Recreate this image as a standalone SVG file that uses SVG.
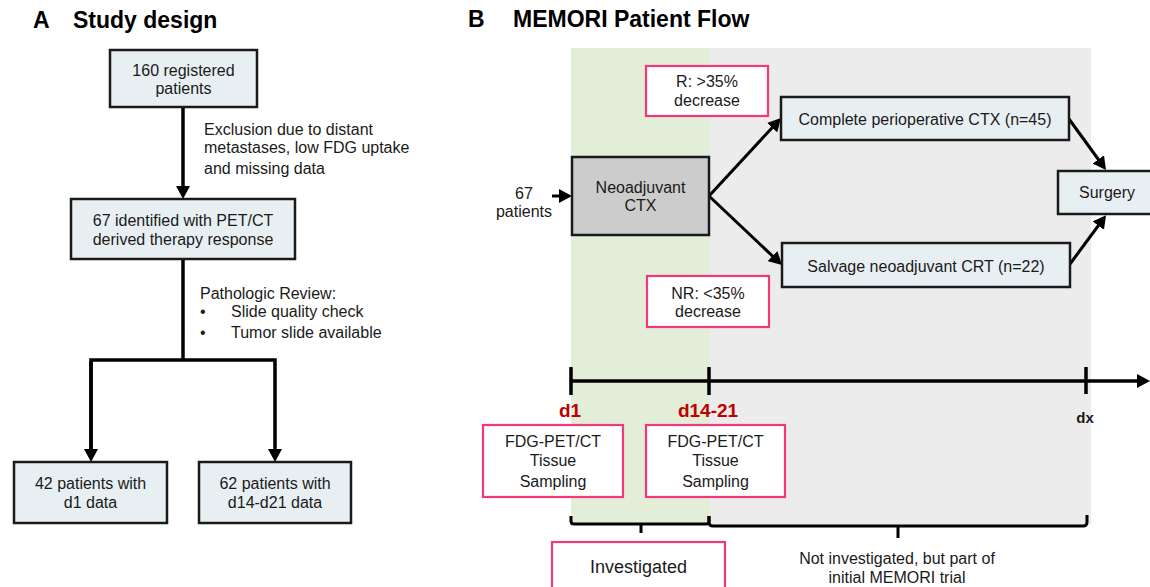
<svg xmlns="http://www.w3.org/2000/svg" width="1150" height="587" viewBox="0 0 1150 587">
  <style>
    text { font-family: "Liberation Sans", Arial, sans-serif; fill: #1a1a1a; }
    .title { font-size: 23px; font-weight: bold; fill: #000; }
    .t16 { font-size: 16px; }
    .mid { text-anchor: middle; }
    .box { fill: #e8eff3; stroke: #1a1a1a; stroke-width: 2.5; }
    .grey { fill: #cccccc; stroke: #1a1a1a; stroke-width: 2.5; }
    .pink { fill: #ffffff; stroke: #f2387a; stroke-width: 2.2; }
    .conn { fill: none; stroke: #000; stroke-width: 3.5; }
    .thin { fill: none; stroke: #000; stroke-width: 3; }
    .day { font-size: 19px; font-weight: bold; fill: #c00000; }
  </style>
  <defs>
    <marker id="arr" markerUnits="userSpaceOnUse" markerWidth="13" markerHeight="14" refX="2" refY="7" orient="auto">
      <path d="M0,0 L13,7 L0,14 Z" fill="#000"/>
    </marker>
  </defs>

  <!-- Panel titles -->
  <text class="title" x="33" y="28">A</text>
  <text class="title" x="73" y="28">Study design</text>
  <text class="title" x="468" y="27">B</text>
  <text class="title" x="513" y="27">MEMORI Patient Flow</text>

  <!-- Panel B timeline phases -->
  <g id="phases">
    <rect x="571" y="48" width="139" height="477" fill="#e2eed8"/>
    <rect x="710" y="48" width="381" height="477" fill="#ececec"/>
  </g>

  <!-- Panel A connectors and annotations -->
  <g id="connectors-a">
    <path class="conn" d="M183,107 V188" marker-end="url(#arr)"/>
    <path class="conn" d="M183,259 V360"/>
    <path class="conn" d="M91,451 V360 H275 V451" marker-end="url(#arr)"/>
    <path class="conn" d="M91,361 V451" marker-end="url(#arr)"/>
  </g>
  <g id="exclusion-note" class="t16">
    <text x="204" y="135">Exclusion due to distant</text>
    <text x="204" y="153">metastases, low FDG uptake</text>
    <text x="204" y="174">and missing data</text>
  </g>
  <g id="review-note" class="t16">
    <text x="200" y="299">Pathologic Review:</text>
    <text x="200" y="317">•</text>
    <text x="231" y="317">Slide quality check</text>
    <text x="200" y="338">•</text>
    <text x="231" y="338">Tumor slide available</text>
  </g>

  <!-- Panel A nodes -->
  <g id="registered">
    <rect class="box" x="110" y="50" width="147" height="57"/>
    <text class="t16 mid" x="183.5" y="76">160 registered</text>
    <text class="t16 mid" x="183.5" y="94">patients</text>
  </g>
  <g id="identified">
    <rect class="box" x="71" y="199" width="224" height="60"/>
    <text class="t16 mid" x="183" y="226">67 identified with PET/CT</text>
    <text class="t16 mid" x="183" y="245">derived therapy response</text>
  </g>
  <g id="d1-data">
    <rect class="box" x="14" y="462" width="153" height="61"/>
    <text class="t16 mid" x="90.5" y="489">42 patients with</text>
    <text class="t16 mid" x="90.5" y="508">d1 data</text>
  </g>
  <g id="d14-data">
    <rect class="box" x="199" y="462" width="152" height="61"/>
    <text class="t16 mid" x="275" y="489">62 patients with</text>
    <text class="t16 mid" x="275" y="508">d14-d21 data</text>
  </g>

  <!-- Panel B connectors -->
  <g id="connectors-b">
    <path class="thin" d="M552,196 H561" marker-end="url(#arr)"/>
    <path class="thin" d="M709,196 L773.5,126.2" marker-end="url(#arr)"/>
    <path class="thin" d="M709,196 L774,257.4" marker-end="url(#arr)"/>
    <path class="thin" d="M1069,119 L1099.5,161" marker-end="url(#arr)"/>
    <path class="thin" d="M1070,264 L1099.5,224" marker-end="url(#arr)"/>
    <!-- timeline -->
    <path class="conn" d="M571,381 H1139" marker-end="url(#arr)"/>
    <path class="conn" d="M571,367 V395 M709,367 V395 M1086,367 V394"/>
    <!-- phase brackets -->
    <path class="thin" d="M571,516 V521 Q571,524 574,524 H706 Q709,524 709,521 V516 M641,524 V533"/>
    <path class="thin" d="M709,516 V522 Q709,526 713,526 H1083 Q1087,526 1087,522 V515 M898,526 V538"/>
  </g>

  <!-- Panel B nodes -->
  <g id="start-count">
    <text class="t16 mid" x="524" y="199">67</text>
    <text class="t16 mid" x="524" y="217">patients</text>
  </g>
  <g id="neoadjuvant">
    <rect class="grey" x="572" y="157" width="137" height="78"/>
    <text class="t16 mid" x="640.5" y="193">Neoadjuvant</text>
    <text class="t16 mid" x="640.5" y="211">CTX</text>
  </g>
  <g id="responder">
    <rect class="pink" x="646" y="66" width="122" height="50"/>
    <text class="t16 mid" x="707" y="87">R: &gt;35%</text>
    <text class="t16 mid" x="707" y="106">decrease</text>
  </g>
  <g id="non-responder">
    <rect class="pink" x="647" y="276" width="122" height="51"/>
    <text class="t16 mid" x="708" y="299">NR: &lt;35%</text>
    <text class="t16 mid" x="708" y="317">decrease</text>
  </g>
  <g id="complete-ctx">
    <rect class="box" x="781" y="97" width="288" height="43"/>
    <text class="t16 mid" x="925" y="125">Complete perioperative CTX (n=45)</text>
  </g>
  <g id="salvage-crt">
    <rect class="box" x="782" y="243" width="288" height="44"/>
    <text class="t16 mid" x="926" y="272">Salvage neoadjuvant CRT (n=22)</text>
  </g>
  <g id="surgery">
    <rect class="box" x="1058" y="171" width="100" height="43"/>
    <text class="t16 mid" x="1107" y="198">Surgery</text>
  </g>

  <!-- Timeline labels -->
  <text class="day mid" x="570" y="417">d1</text>
  <text class="day mid" x="708" y="417">d14-21</text>
  <text class="mid" x="1085" y="423" style="font-size:15px;font-weight:bold;">dx</text>

  <g id="sampling-d1">
    <rect class="pink" x="483" y="425" width="140" height="72"/>
    <text class="t16 mid" x="553" y="447">FDG-PET/CT</text>
    <text class="t16 mid" x="553" y="466">Tissue</text>
    <text class="t16 mid" x="553" y="487">Sampling</text>
  </g>
  <g id="sampling-d14">
    <rect class="pink" x="646" y="425" width="139" height="72"/>
    <text class="t16 mid" x="715.5" y="447">FDG-PET/CT</text>
    <text class="t16 mid" x="715.5" y="466">Tissue</text>
    <text class="t16 mid" x="715.5" y="487">Sampling</text>
  </g>
  <g id="investigated">
    <rect class="pink" x="552" y="542" width="173" height="60"/>
    <text class="mid" x="638.5" y="573" style="font-size:18px;">Investigated</text>
  </g>
  <g id="not-investigated" class="t16">
    <text class="mid" x="897" y="564">Not investigated, but part of</text>
    <text class="mid" x="897" y="583">initial MEMORI trial</text>
  </g>
</svg>
